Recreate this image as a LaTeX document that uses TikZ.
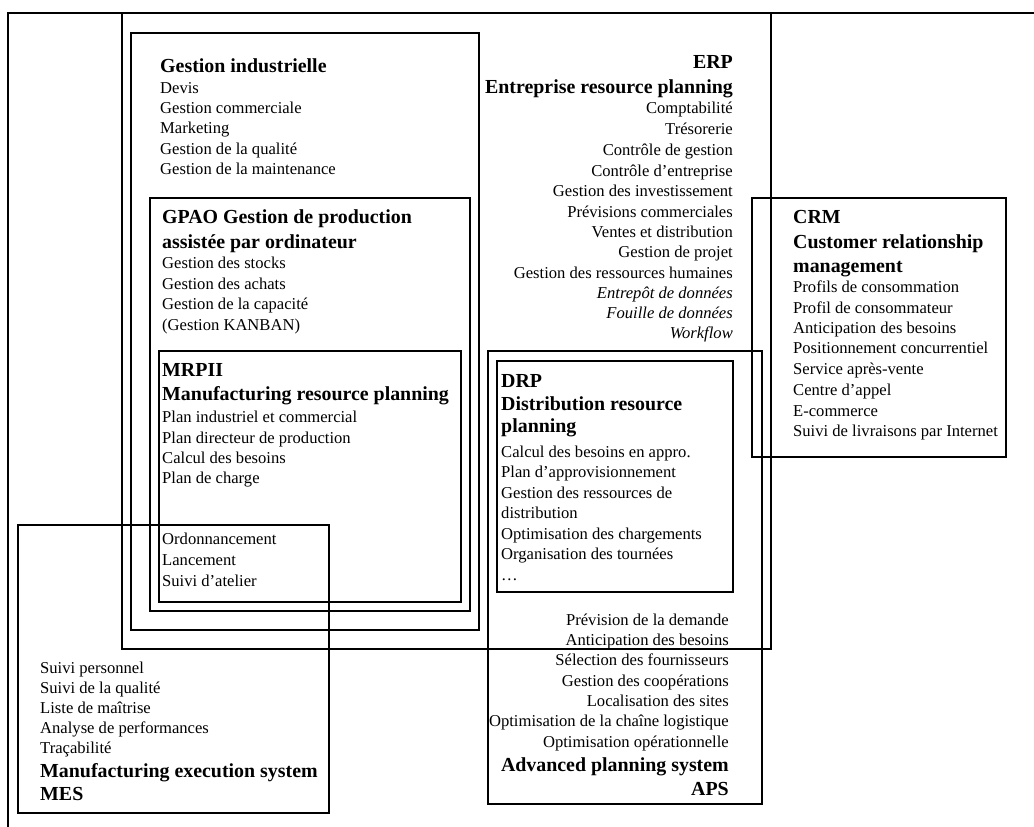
\documentclass[tikz,border=0pt]{standalone}
\usepackage{fontspec}
\setmainfont{Liberation Serif}
\begin{document}
\begin{tikzpicture}[x=1pt,y=-1pt,
  frameline/.style={line width=2pt},
  box/.style={draw, line width=1.2pt},
  t/.style={inner sep=0pt, anchor=base west, font=\fontsize{16.6}{20}\selectfont},
  tr/.style={t, anchor=base east},
  ti/.style={tr, font=\fontsize{16.6}{20}\selectfont\itshape},
  h/.style={inner sep=0pt, anchor=base west, font=\fontsize{19.9}{24}\selectfont\bfseries},
  hr/.style={h, anchor=base east}]
\useasboundingbox (0,0) rectangle (1034,827);
% outer frame
\draw[frameline] (8,827) -- (8,13) -- (1034,13);
% boxes
\draw[box] (122,13) rectangle (771,649);   % ERP
\draw[box] (131,33) rectangle (479,630);   % Gestion industrielle
\draw[box] (150,198) rectangle (470,611);  % GPAO
\draw[box] (159,351) rectangle (461,602);  % MRPII
\draw[box] (18,525) rectangle (329,813);   % MES
\draw[box] (488,351) rectangle (762,804);  % APS
\draw[box] (497,361) rectangle (733,592);  % DRP
\draw[box] (752,198) rectangle (1006,457); % CRM

% Gestion industrielle
\node[h] (gi0) at (160,72) {Gestion industrielle};
\foreach \y/\s [count=\i] in {93/Devis, 113/Gestion commerciale, 133/Marketing,
  154/Gestion de la qualité, 174/Gestion de la maintenance}
  \node[t] (gi\i) at (160,\y) {\s};

% GPAO
\node[h] (gpa) at (162,223) {GPAO Gestion de production};
\node[h] (gpb) at (162,248) {assistée par ordinateur};
\foreach \y/\s [count=\i] in {268/Gestion des stocks, 289/Gestion des achats,
  309/Gestion de la capacité, 330/(Gestion KANBAN)}
  \node[t] (gp\i) at (162,\y) {\s};

% MRPII
\node[h] (mra) at (162,376) {MRPII};
\node[h] (mrb) at (162,400) {Manufacturing resource planning};
\foreach \y/\s [count=\i] in {422/Plan industriel et commercial,
  443/Plan directeur de production, 463/Calcul des besoins, 483/Plan de charge,
  544/Ordonnancement, 565/Lancement, 586/Suivi d’atelier}
  \node[t] (mr\i) at (162,\y) {\s};

% ERP
\node[hr] (erpa) at (733,68) {ERP};
\node[hr] (erpb) at (733,93) {Entreprise resource planning};
\foreach \y/\s [count=\i] in {113/Comptabilité\ , 134/Trésorerie,
  155/Contrôle de gestion\ , 176/Contrôle d’entreprise,
  196/Gestion des investissement, 217/Prévisions commerciales,
  237/Ventes et distribution, 257/Gestion de projet,
  278/Gestion des ressources humaines}
  \node[tr] (erp\i) at (733,\y) {\s};
\node[ti] (erpi1) at (733,298) {Entrepôt de données};
\node[ti] (erpi2) at (733,318) {Fouille de données\ };
\node[ti] (erpi3) at (733,338) {Workflow\ };

% CRM
\node[h] (crma) at (793,223) {CRM};
\node[h] (crmb) at (793,248) {Customer relationship};
\node[h] (crmc) at (793,272) {management};
\foreach \y/\s [count=\i] in {292/Profils de consommation,
  313/Profil de consommateur, 333/Anticipation des besoins,
  353/Positionnement concurrentiel, 374/Service après-vente,
  395/Centre d’appel, 416/E-commerce, 436/Suivi de livraisons par Internet}
  \node[t] (crm\i) at (793,\y) {\s};

% DRP
\node[h] (drpa) at (501,387) {DRP};
\node[h] (drpb) at (501,410) {Distribution resource};
\node[h] (drpc) at (501,432) {planning};
\foreach \y/\s [count=\i] in {457/Calcul des besoins en appro.,
  477/Plan d’approvisionnement, 498/Gestion des ressources de,
  518/distribution, 539/Optimisation des chargements,
  559/Organisation des tournées, 580/\dots}
  \node[t] (drp\i) at (501,\y) {\s};

% APS
\foreach \y/\s [count=\i] in {625/Prévision de la demande,
  645/Anticipation des besoins, 665/Sélection des fournisseurs,
  686/Gestion des coopérations, 706/Localisation des sites,
  726/Optimisation de la chaîne logistique, 747/Optimisation opérationnelle}
  \node[tr] (aps\i) at (729,\y) {\s};
\node[hr] (apsa) at (729,771) {Advanced planning system};
\node[hr] (apsb) at (729,795) {APS};

% MES
\foreach \y/\s [count=\i] in {673/Suivi personnel, 693/Suivi de la qualité,
  713/Liste de maîtrise, 733/Analyse de performances, 753/Traçabilité}
  \node[t] (mes\i) at (40,\y) {\s};
\node[h] (mesa) at (40,777) {Manufacturing execution system};
\node[h] (mesb) at (40,800) {MES};
\end{tikzpicture}
\end{document}
